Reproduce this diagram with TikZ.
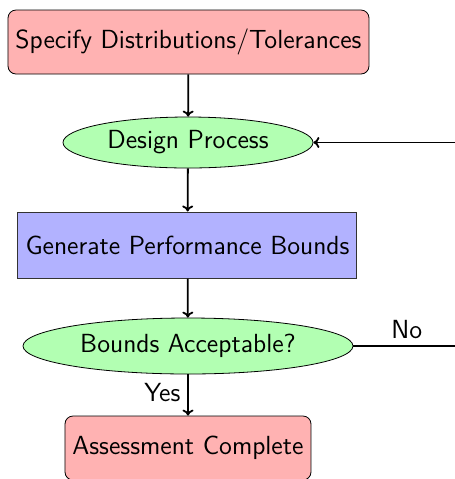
\documentclass[tikz,border=0pt]{standalone}
\usetikzlibrary{shapes.geometric,arrows.meta}
\renewcommand{\familydefault}{\sfdefault}
\begin{document}
\begin{tikzpicture}[x=0.5pt,y=-0.5pt,
  every node/.style={font=\fontsize{13.1}{16}\selectfont\sffamily},
  startstop/.style={rectangle, rounded corners=4pt, draw=black, fill=red!30,
    minimum width=180.5pt, minimum height=32pt, inner sep=0pt},
  endbox/.style={rectangle, rounded corners=4pt, draw=black, fill=red!30,
    minimum width=123pt, minimum height=32pt, inner sep=0pt},
  process/.style={rectangle, draw=black!80, fill=blue!30, line width=0.5pt,
    minimum width=169.5pt, minimum height=33pt, inner sep=0pt},
  decision/.style={ellipse, draw=black, fill=green!30, inner sep=0pt},
  arrow/.style={line width=0.9pt,-{To[length=3pt,width=5.5pt]}},
  line/.style={line width=0.9pt}]
\useasboundingbox (0,0) rectangle (455,479);
\clip (0,0) rectangle (455,479);

\node[startstop] (spec) at (188.5,42) {Specify Distributions/Tolerances};
\node[decision, minimum width=125pt, minimum height=25.5pt] (design) at (188,142.5) {Design Process};
\node[process] (gen) at (187.5,245) {Generate Performance Bounds};
\node[decision, minimum width=165pt, minimum height=28pt] (accept) at (188,346) {Bounds Acceptable?};
\node[endbox] (done) at (188,448) {Assessment Complete};

\coordinate (noend) at (460,346);
\coordinate (loopin) at (460,142.5);

\draw[arrow] (spec) -- (design);
\draw[arrow] (design) -- (gen);
\draw[arrow] (gen) -- (accept);
\draw[arrow] (accept) -- node[left, pos=0.45] {Yes} (done);
\draw[line] (accept) -- node[above, pos=0.5] {No} (noend);
\draw[arrow] (loopin) -- (design);
\end{tikzpicture}
\end{document}
